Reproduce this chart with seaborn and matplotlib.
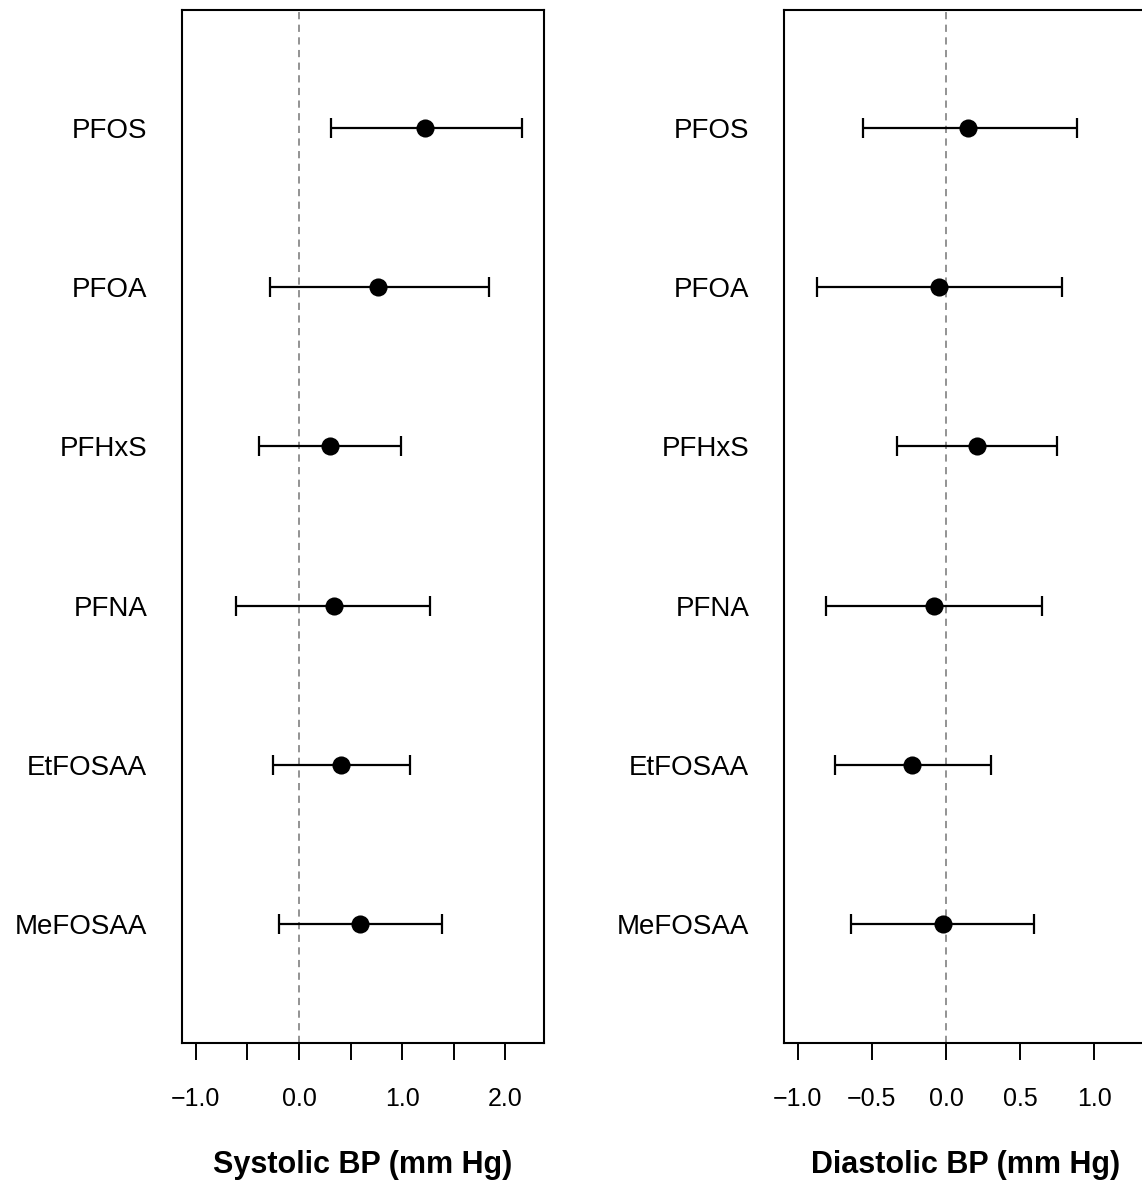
import matplotlib
matplotlib.use("Agg")
import matplotlib.pyplot as plt
import pandas as pd
import seaborn as sns

# PFAS compounds, top to bottom
compounds = ["PFOS", "PFOA", "PFHxS", "PFNA", "EtFOSAA", "MeFOSAA"]
ypos = [6, 5, 4, 3, 2, 1]

# Systolic BP: estimate and 95% CI
sys_est = [1.22, 0.77, 0.30, 0.34, 0.41, 0.59]
sys_lo = [0.31, -0.28, -0.39, -0.61, -0.25, -0.19]
sys_hi = [2.16, 1.84, 0.99, 1.27, 1.08, 1.39]

# Diastolic BP: estimate and 95% CI
dia_est = [0.15, -0.05, 0.21, -0.08, -0.23, -0.02]
dia_lo = [-0.56, -0.87, -0.33, -0.81, -0.75, -0.64]
dia_hi = [0.88, 0.78, 0.75, 0.65, 0.30, 0.59]

sys_ticks = [-1.0, -0.5, 0.0, 0.5, 1.0, 1.5, 2.0]
sys_ticklabels = ["\u22121.0", "", "0.0", "", "1.0", "", "2.0"]
dia_ticks = [-1.0, -0.5, 0.0, 0.5, 1.0]
dia_ticklabels = ["\u22121.0", "\u22120.5", "0.0", "0.5", "1.0"]

sns.set_style("white")
plt.rcParams['font.family'] = ['Liberation Sans', 'DejaVu Sans']
plt.rcParams['text.color'] = 'black'
plt.rcParams['axes.labelcolor'] = 'black'
plt.rcParams['xtick.color'] = 'black'
plt.rcParams['ytick.color'] = 'black'

W, H = 1142, 1184
fig = plt.figure(figsize=(W / 100, H / 100), dpi=100)

def px_axes(x0, x1, y0, y1):
    return fig.add_axes([x0 / W, 1 - y1 / H, (x1 - x0) / W, (y1 - y0) / H])

ax1 = px_axes(182, 544, 10, 1043)
ax2 = px_axes(784, 1147, 10, 1043)


def forest(ax, est, lo, hi, xlim, ticks, ticklabels, xlabel):
    df = pd.DataFrame({"compound": compounds, "y": ypos, "est": est, "lo": lo, "hi": hi})
    ax.axvline(0, color="#8a8a8a", lw=1.3, ls=(0, (4, 3)), zorder=1)
    ax.errorbar(df["est"], df["y"],
                xerr=[df["est"] - df["lo"], df["hi"] - df["est"]],
                fmt="none", ecolor="black", elinewidth=1.6, capsize=7,
                capthick=1.6, zorder=2)
    sns.scatterplot(data=df, x="est", y="y", ax=ax, color="black", s=170,
                    edgecolor="black", linewidth=0, zorder=3, legend=False)
    ax.set_xlim(*xlim)
    ax.set_ylim(0.2525, 6.741)
    ax.set_yticks(ypos)
    ax.set_yticklabels(compounds, fontsize=20)
    ax.tick_params(axis="y", length=0, pad=25)
    ax.set_xticks(ticks)
    ax.set_xticklabels(ticklabels, fontsize=18)
    ax.tick_params(axis="x", direction="out", length=12, width=1.4,
                   pad=20, colors="black", bottom=True)
    ax.set_ylabel("")
    ax.set_xlabel(xlabel, fontsize=22, fontweight="bold", labelpad=28)
    for sp in ax.spines.values():
        sp.set_linewidth(1.5)
        sp.set_color("black")
        sp.set_visible(True)


forest(ax1, sys_est, sys_lo, sys_hi, (-1.134, 2.374), sys_ticks,
       sys_ticklabels, "Systolic BP (mm Hg)")
forest(ax2, dia_est, dia_lo, dia_hi, (-1.091, 1.354), dia_ticks,
       dia_ticklabels, "Diastolic BP (mm Hg)")

fig.savefig("out.png", dpi=100)
